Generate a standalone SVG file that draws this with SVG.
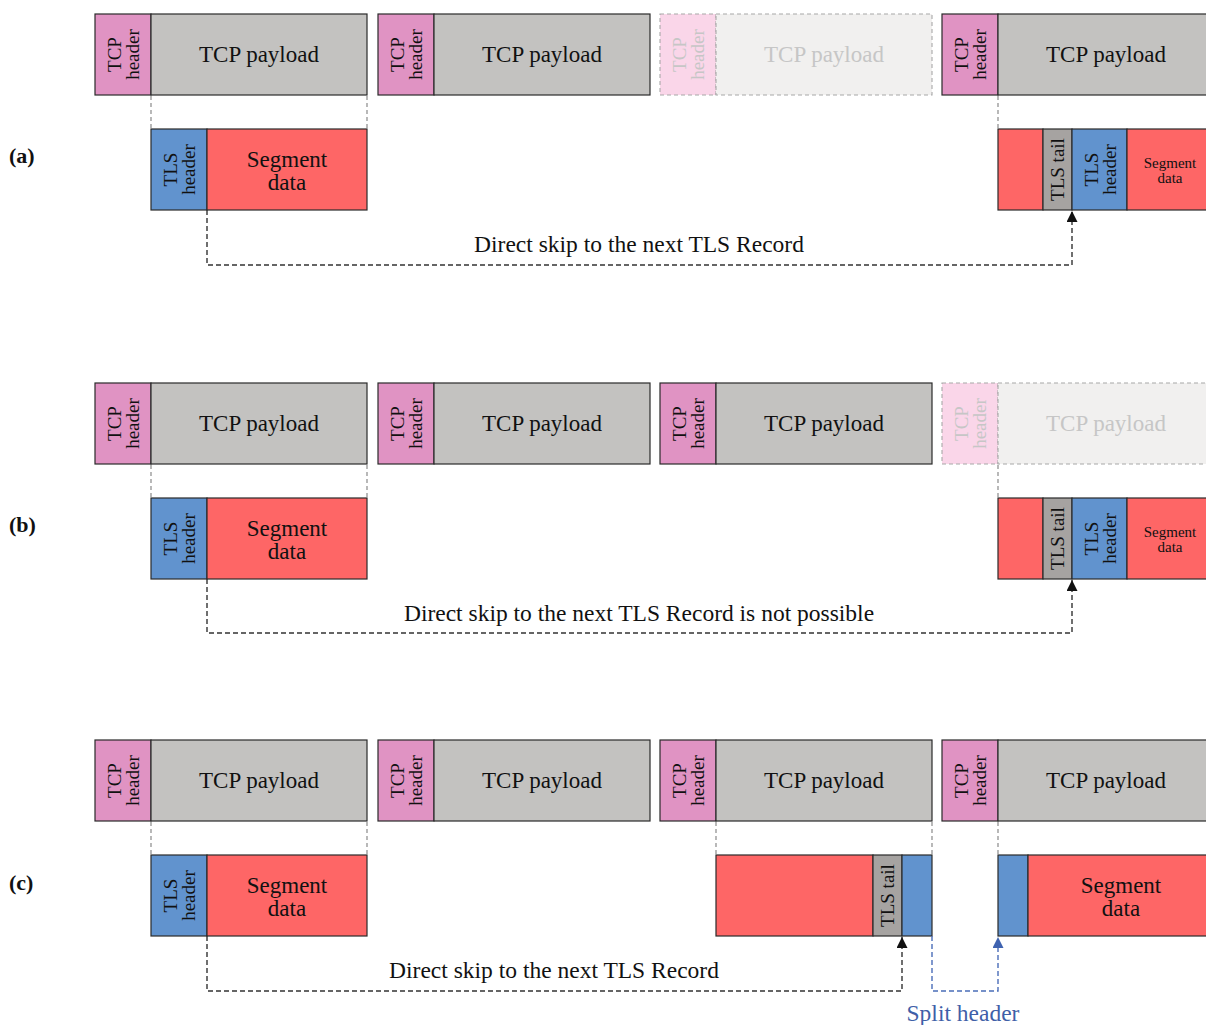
<svg xmlns="http://www.w3.org/2000/svg" width="1206" height="1025" viewBox="0 0 1206 1025">
  <style>
    text { font-family: "Liberation Serif", "DejaVu Serif", serif; fill: #111; }
    .box { stroke: #2a2a2a; stroke-width: 1.2; }
    .hdr { fill: #E093C3; }
    .pay { fill: #C3C2C0; }
    .tls { fill: #6193CE; }
    .seg { fill: #FE6666; }
    .tail { fill: #A6A3A1; }
    .ghost { stroke: #A8A8A8; stroke-width: 1.1; stroke-dasharray: 4 3; }
    .ghdr { fill: #FAD6E9; }
    .gpay { fill: #F1F0EF; }
    .gtxt { fill: #C6C6C6; }
    .big { font-size: 23px; text-anchor: middle; }
    .rot { font-size: 19px; text-anchor: middle; }
    .small { font-size: 15px; text-anchor: middle; }
    .lbl { font-size: 22px; font-weight: bold; }
    .guide { stroke: #8a8a8a; stroke-width: 1.2; stroke-dasharray: 4 3; fill: none; }
    .skip { stroke: #333; stroke-width: 1.4; stroke-dasharray: 5 3; fill: none; }
    .split { stroke: #4A6DB8; stroke-width: 1.4; stroke-dasharray: 5 3; fill: none; }
    .cap { font-size: 23.5px; text-anchor: middle; }
  </style>
  <defs>
    <marker id="ah" viewBox="0 0 10 10" refX="10" refY="5" markerWidth="11" markerHeight="11" markerUnits="userSpaceOnUse" orient="auto">
      <path d="M0,0 L10,5 L0,10 z" fill="#111"/>
    </marker>
    <marker id="ahBlue" viewBox="0 0 10 10" refX="10" refY="5" markerWidth="11" markerHeight="11" markerUnits="userSpaceOnUse" orient="auto">
      <path d="M0,0 L10,5 L0,10 z" fill="#3F63B0"/>
    </marker>
  </defs>

  <!-- row labels -->
  <text class="lbl" x="9" y="163">(a)</text>
  <text class="lbl" x="9" y="532">(b)</text>
  <text class="lbl" x="9" y="890">(c)</text>

  <!-- ===== (a) ===== -->
  <g id="a-tcp1">
    <rect class="box hdr" x="95" y="14" width="56" height="81"/>
    <rect class="box pay" x="151" y="14" width="216" height="81"/>
    <text class="rot" transform="translate(123,54.5) rotate(-90)"><tspan x="0" y="-2">TCP</tspan><tspan x="0" y="16">header</tspan></text>
    <text class="big" x="259" y="62">TCP payload</text>
  </g>
  <g id="a-tcp2">
    <rect class="box hdr" x="378" y="14" width="56" height="81"/>
    <rect class="box pay" x="434" y="14" width="216" height="81"/>
    <text class="rot" transform="translate(406,54.5) rotate(-90)"><tspan x="0" y="-2">TCP</tspan><tspan x="0" y="16">header</tspan></text>
    <text class="big" x="542" y="62">TCP payload</text>
  </g>
  <g id="a-tcp3-lost">
    <rect class="ghost ghdr" x="660" y="14" width="56" height="81"/>
    <rect class="ghost gpay" x="716" y="14" width="216" height="81"/>
    <text class="rot gtxt" transform="translate(688,54.5) rotate(-90)"><tspan x="0" y="-2">TCP</tspan><tspan x="0" y="16">header</tspan></text>
    <text class="big gtxt" x="824" y="62">TCP payload</text>
  </g>
  <g id="a-tcp4">
    <rect class="box hdr" x="942" y="14" width="56" height="81"/>
    <rect class="box pay" x="998" y="14" width="216" height="81"/>
    <text class="rot" transform="translate(970,54.5) rotate(-90)"><tspan x="0" y="-2">TCP</tspan><tspan x="0" y="16">header</tspan></text>
    <text class="big" x="1106" y="62">TCP payload</text>
  </g>
  <g id="a-rec1">
    <rect class="box tls" x="151" y="129" width="56" height="81"/>
    <rect class="box seg" x="207" y="129" width="160" height="81"/>
    <text class="rot" transform="translate(179,169.5) rotate(-90)"><tspan x="0" y="-2">TLS</tspan><tspan x="0" y="16">header</tspan></text>
    <text class="big" x="287" y="167">Segment</text>
    <text class="big" x="287" y="190">data</text>
  </g>
  <g id="a-rec4">
    <rect class="box seg" x="998" y="129" width="45" height="81"/>
    <rect class="box tail" x="1043" y="129" width="29" height="81"/>
    <rect class="box tls" x="1072" y="129" width="55" height="81"/>
    <rect class="box seg" x="1127" y="129" width="87" height="81"/>
    <text class="rot" transform="translate(1064,169.5) rotate(-90)" x="0" y="0">TLS tail</text>
    <text class="rot" transform="translate(1099.5,169.5) rotate(-90)"><tspan x="0" y="-2">TLS</tspan><tspan x="0" y="16">header</tspan></text>
    <text class="small" x="1170" y="168">Segment</text>
    <text class="small" x="1170" y="183">data</text>
  </g>

  <!-- ===== (b) ===== -->
  <g id="b-tcp1">
    <rect class="box hdr" x="95" y="383" width="56" height="81"/>
    <rect class="box pay" x="151" y="383" width="216" height="81"/>
    <text class="rot" transform="translate(123,423.5) rotate(-90)"><tspan x="0" y="-2">TCP</tspan><tspan x="0" y="16">header</tspan></text>
    <text class="big" x="259" y="431">TCP payload</text>
  </g>
  <g id="b-tcp2">
    <rect class="box hdr" x="378" y="383" width="56" height="81"/>
    <rect class="box pay" x="434" y="383" width="216" height="81"/>
    <text class="rot" transform="translate(406,423.5) rotate(-90)"><tspan x="0" y="-2">TCP</tspan><tspan x="0" y="16">header</tspan></text>
    <text class="big" x="542" y="431">TCP payload</text>
  </g>
  <g id="b-tcp3">
    <rect class="box hdr" x="660" y="383" width="56" height="81"/>
    <rect class="box pay" x="716" y="383" width="216" height="81"/>
    <text class="rot" transform="translate(688,423.5) rotate(-90)"><tspan x="0" y="-2">TCP</tspan><tspan x="0" y="16">header</tspan></text>
    <text class="big" x="824" y="431">TCP payload</text>
  </g>
  <g id="b-tcp4-lost">
    <rect class="ghost ghdr" x="942" y="383" width="56" height="81"/>
    <rect class="ghost gpay" x="998" y="383" width="216" height="81"/>
    <text class="rot gtxt" transform="translate(970,423.5) rotate(-90)"><tspan x="0" y="-2">TCP</tspan><tspan x="0" y="16">header</tspan></text>
    <text class="big gtxt" x="1106" y="431">TCP payload</text>
  </g>
  <g id="b-rec1">
    <rect class="box tls" x="151" y="498" width="56" height="81"/>
    <rect class="box seg" x="207" y="498" width="160" height="81"/>
    <text class="rot" transform="translate(179,538.5) rotate(-90)"><tspan x="0" y="-2">TLS</tspan><tspan x="0" y="16">header</tspan></text>
    <text class="big" x="287" y="536">Segment</text>
    <text class="big" x="287" y="559">data</text>
  </g>
  <g id="b-rec4">
    <rect class="box seg" x="998" y="498" width="45" height="81"/>
    <rect class="box tail" x="1043" y="498" width="29" height="81"/>
    <rect class="box tls" x="1072" y="498" width="55" height="81"/>
    <rect class="box seg" x="1127" y="498" width="87" height="81"/>
    <text class="rot" transform="translate(1064,538.5) rotate(-90)" x="0" y="0">TLS tail</text>
    <text class="rot" transform="translate(1099.5,538.5) rotate(-90)"><tspan x="0" y="-2">TLS</tspan><tspan x="0" y="16">header</tspan></text>
    <text class="small" x="1170" y="537">Segment</text>
    <text class="small" x="1170" y="552">data</text>
  </g>

  <!-- ===== (c) ===== -->
  <g id="c-tcp1">
    <rect class="box hdr" x="95" y="740" width="56" height="81"/>
    <rect class="box pay" x="151" y="740" width="216" height="81"/>
    <text class="rot" transform="translate(123,780.5) rotate(-90)"><tspan x="0" y="-2">TCP</tspan><tspan x="0" y="16">header</tspan></text>
    <text class="big" x="259" y="788">TCP payload</text>
  </g>
  <g id="c-tcp2">
    <rect class="box hdr" x="378" y="740" width="56" height="81"/>
    <rect class="box pay" x="434" y="740" width="216" height="81"/>
    <text class="rot" transform="translate(406,780.5) rotate(-90)"><tspan x="0" y="-2">TCP</tspan><tspan x="0" y="16">header</tspan></text>
    <text class="big" x="542" y="788">TCP payload</text>
  </g>
  <g id="c-tcp3">
    <rect class="box hdr" x="660" y="740" width="56" height="81"/>
    <rect class="box pay" x="716" y="740" width="216" height="81"/>
    <text class="rot" transform="translate(688,780.5) rotate(-90)"><tspan x="0" y="-2">TCP</tspan><tspan x="0" y="16">header</tspan></text>
    <text class="big" x="824" y="788">TCP payload</text>
  </g>
  <g id="c-tcp4">
    <rect class="box hdr" x="942" y="740" width="56" height="81"/>
    <rect class="box pay" x="998" y="740" width="216" height="81"/>
    <text class="rot" transform="translate(970,780.5) rotate(-90)"><tspan x="0" y="-2">TCP</tspan><tspan x="0" y="16">header</tspan></text>
    <text class="big" x="1106" y="788">TCP payload</text>
  </g>
  <g id="c-rec1">
    <rect class="box tls" x="151" y="855" width="56" height="81"/>
    <rect class="box seg" x="207" y="855" width="160" height="81"/>
    <text class="rot" transform="translate(179,895.5) rotate(-90)"><tspan x="0" y="-2">TLS</tspan><tspan x="0" y="16">header</tspan></text>
    <text class="big" x="287" y="893">Segment</text>
    <text class="big" x="287" y="916">data</text>
  </g>
  <g id="c-rec3">
    <rect class="box seg" x="716" y="855" width="157" height="81"/>
    <rect class="box tail" x="873" y="855" width="29" height="81"/>
    <rect class="box tls" x="902" y="855" width="30" height="81"/>
    <text class="rot" transform="translate(894,895.5) rotate(-90)" x="0" y="0">TLS tail</text>
  </g>
  <g id="c-rec4">
    <rect class="box tls" x="998" y="855" width="30" height="81"/>
    <rect class="box seg" x="1028" y="855" width="186" height="81"/>
    <text class="big" x="1121" y="893">Segment</text>
    <text class="big" x="1121" y="916">data</text>
  </g>

  <!-- connectors -->
  <g id="connectors">
    <!-- payload-to-record guides -->
    <path class="guide" d="M151,96 V129 M367,96 V129 M998,96 V129"/>
    <path class="guide" d="M151,465 V498 M367,465 V498 M998,465 V498"/>
    <path class="guide" d="M151,822 V855 M367,822 V855 M716,822 V855 M932,822 V855 M998,822 V855"/>

    <!-- (a) skip -->
    <path class="skip" d="M207,210 V265 H1072 V211" marker-end="url(#ah)"/>
    <text class="cap" x="639" y="252">Direct skip to the next TLS Record</text>

    <!-- (b) skip -->
    <path class="skip" d="M207,579 V633 H1072 V580" marker-end="url(#ah)"/>
    <text class="cap" x="639" y="621">Direct skip to the next TLS Record is not possible</text>

    <!-- (c) skip -->
    <path class="skip" d="M207,936 V991 H902 V937" marker-end="url(#ah)"/>
    <text class="cap" x="554" y="978">Direct skip to the next TLS Record</text>

    <!-- (c) split header -->
    <path class="split" d="M932,936 V991 H998 V937" marker-end="url(#ahBlue)"/>
    <text class="cap" x="963" y="1021" style="fill:#3F5FA8">Split header</text>
  </g>
</svg>
